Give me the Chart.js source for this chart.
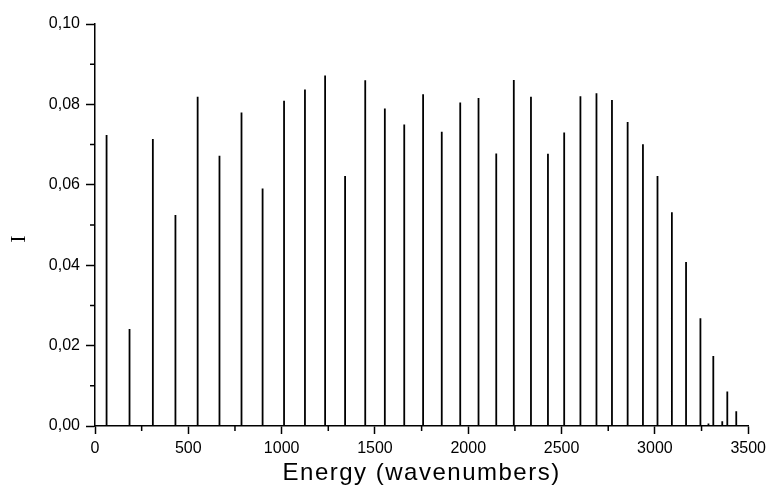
<!DOCTYPE html>
<html>
<head>
<meta charset="utf-8">
<script src="https://cdn.jsdelivr.net/npm/chart.js@4.4.0/dist/chart.umd.min.js"></script>
<style>
  html, body { margin: 0; padding: 0; background: #fff; }
</style>
</head>
<body>
<canvas id="spectrum" width="771" height="485"></canvas>
<script>
// stick spectrum: line positions (cm-1) and their intensities
const energies = [62, 185, 310, 431, 550, 667, 785, 898, 1013, 1125, 1233, 1340, 1448, 1553, 1657,
  1758, 1858, 1957, 2055, 2150, 2244, 2336, 2427, 2514, 2601, 2687, 2770, 2854, 2936, 3014,
  3091, 3167, 3244, 3287, 3313, 3361, 3388, 3436];
const intensities = [0.0724, 0.0241, 0.0714, 0.0525, 0.0819, 0.0672, 0.0780, 0.0591, 0.0809, 0.0837,
  0.0872, 0.0622, 0.0860, 0.0790, 0.0750, 0.0825, 0.0732, 0.0805, 0.0816, 0.0678,
  0.0861, 0.0819, 0.0677, 0.0730, 0.0820, 0.0828, 0.0811, 0.0756, 0.0701, 0.0622,
  0.0532, 0.0408, 0.0268, 0.0006, 0.0174, 0.0012, 0.0086, 0.0037];

const xMinorTicks = [250, 750, 1250, 1750, 2250, 2750, 3250];
const yMinorTicks = [0.01, 0.03, 0.05, 0.07, 0.09];
const xTitle = 'Energy (wavenumbers)';
const yTitle = 'I';

Chart.defaults.font.family = '"Liberation Sans", Arial, sans-serif';
Chart.defaults.color = '#000';

// each line goes up from zero and is broken off with a null point
let sticks = [];
for (let i = 0; i < energies.length; i++) {
  sticks.push({x: energies[i], y: 0});
  sticks.push({x: energies[i], y: intensities[i]});
  sticks.push({x: energies[i], y: null});
}

// short unlabeled ticks between the labeled ones, and both axis titles
const extras = {
  id: 'extras',
  afterDraw(chart) {
    const ctx = chart.ctx;
    const xs = chart.scales.x, ys = chart.scales.y;
    const area = chart.chartArea;
    ctx.save();
    ctx.strokeStyle = '#000';
    ctx.lineWidth = 1.5;
    ctx.beginPath();
    for (const v of xMinorTicks) {
      const px = xs.getPixelForValue(v);
      ctx.moveTo(px, xs.top);
      ctx.lineTo(px, xs.top + 5);
    }
    for (const v of yMinorTicks) {
      const py = ys.getPixelForValue(v);
      ctx.moveTo(ys.right, py);
      ctx.lineTo(ys.right - 5, py);
    }
    ctx.stroke();

    ctx.fillStyle = '#000';
    ctx.textAlign = 'center';
    ctx.textBaseline = 'alphabetic';

    // x title, slightly spaced out
    ctx.font = '24px "Liberation Sans", Arial, sans-serif';
    if ('letterSpacing' in ctx) ctx.letterSpacing = '1.5px';
    ctx.fillText(xTitle, (area.left + area.right) / 2, 480);
    if ('letterSpacing' in ctx) ctx.letterSpacing = '0px';

    // y title, rotated
    ctx.translate(25, 239);
    ctx.rotate(-Math.PI / 2);
    ctx.font = '22px "Liberation Serif", "Times New Roman", serif';
    ctx.fillText(yTitle, 0, 0);
    ctx.restore();
  }
};

new Chart(document.getElementById('spectrum'), {
  type: 'line',
  data: {
    datasets: [{
      data: sticks,
      borderColor: '#000',
      borderWidth: 1.8,
      pointRadius: 0,
      spanGaps: false,
      tension: 0
    }]
  },
  options: {
    responsive: false,
    animation: false,
    layout: {padding: {top: 24, right: 20, bottom: 0, left: 0}},
    plugins: {legend: {display: false}, tooltip: {enabled: false}},
    scales: {
      x: {
        type: 'linear',
        min: 0,
        max: 3500,
        afterFit: s => { s.height = 59; },
        border: {display: true, color: '#000', width: 1.5},
        grid: {drawOnChartArea: false, drawTicks: true, tickLength: 8, tickColor: '#000', tickWidth: 1.5},
        ticks: {stepSize: 500, padding: 5, maxRotation: 0, font: {size: 16}, callback: v => String(v)}
      },
      y: {
        min: 0,
        max: 0.1,
        afterFit: s => { s.width = 95; },
        border: {display: true, color: '#000', width: 1.5},
        grid: {drawOnChartArea: false, drawTicks: true, tickLength: 9, tickColor: '#000', tickWidth: 1.5},
        ticks: {stepSize: 0.02, padding: 6, font: {size: 16}, callback: v => v.toFixed(2).replace('.', ',')}
      }
    }
  },
  plugins: [extras]
});
</script>
</body>
</html>
